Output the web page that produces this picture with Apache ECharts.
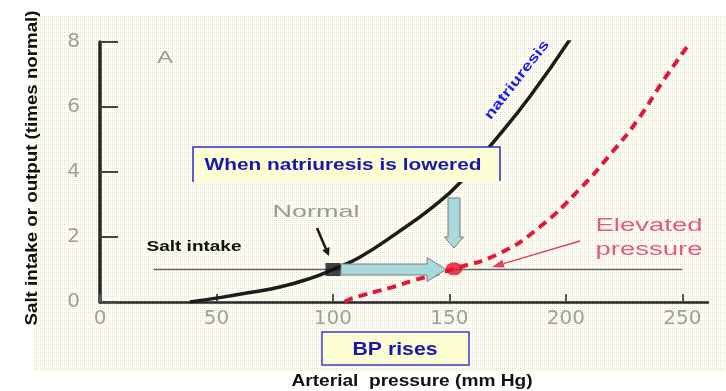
<!DOCTYPE html>
<html><head><meta charset="utf-8">
<script src="https://cdn.jsdelivr.net/npm/echarts@6/dist/echarts.min.js"></script>
<style>html,body{margin:0;padding:0;background:#fff}#c{width:726px;height:391px}</style>
</head><body><div id="c"></div>
<script>
// ---- data ----
const xTicks = [0, 50, 100, 150, 200, 250];
const yTicks = [0, 2, 4, 6, 8];
const natriuresisX = [38.6, 52.7, 65, 77.2, 90, 100, 111.5, 127.4, 142.8, 154.4, 167.2, 184.4, 202.4];
const natriuresisY = [0, 0.15, 0.3, 0.46, 0.72, 1.0, 1.38, 2.12, 2.92, 3.66, 4.77, 6.31, 8.15];
const elevatedX = [105, 108.5, 125.6, 134, 152, 171.6, 188.6, 205.6, 219.5, 230.8, 242, 252];
const elevatedY = [0, 0.12, 0.46, 0.65, 1.02, 1.5, 2.3, 3.45, 4.58, 5.6, 6.83, 7.85];
const saltIntake = 1;
const saltRange = [23, 250];
const normalPoint = [100, 1];
const elevatedPoint = [152, 1.02];

// ---- chart ----
const chart = echarts.init(document.getElementById('c'), null, {renderer: 'canvas'});
const pair = (xs, ys) => xs.map((x, i) => [x, ys[i]]);

chart.setOption({
  animation: false,
  backgroundColor: '#ffffff',
  grid: {left: 100, right: 18, top: 42, bottom: 89},
  xAxis: {
    type: 'value', min: 0, max: 261, interval: 50,
    splitLine: {show: false},
    axisLine: {show: true, onZero: false, lineStyle: {color: '#262626', width: 2.5}},
    axisTick: {show: true, inside: true, length: 8, customValues: xTicks, lineStyle: {color: '#555', width: 2}},
    axisLabel: {customValues: xTicks, color: '#a0a0a0', fontSize: 20, fontFamily: 'DejaVu Sans', margin: 7}
  },
  yAxis: {
    type: 'value', min: 0, max: 8, interval: 2,
    splitLine: {show: false},
    axisLine: {show: true, lineStyle: {color: '#262626', width: 3.5}},
    axisTick: {show: true, inside: true, length: 18, customValues: yTicks, lineStyle: {color: '#444', width: 2}},
    axisLabel: {customValues: yTicks, color: '#a0a0a0', fontSize: 20, fontFamily: 'DejaVu Sans', margin: 20}
  },
  series: [
    {type: 'line', name: 'Salt intake', data: saltRange.map(x => [x, saltIntake]), symbol: 'none',
     lineStyle: {color: '#6a6a6a', width: 1.5}, z: 1},
    {type: 'line', name: 'natriuresis', data: pair(natriuresisX, natriuresisY), symbol: 'none',
     smooth: 0.5, lineStyle: {color: '#1c1c1c', width: 3.5}, z: 3},
    {type: 'line', name: 'Elevated pressure', data: pair(elevatedX, elevatedY), symbol: 'none',
     smooth: 0.5, lineStyle: {color: '#e3173a', width: 4, type: [9, 6]}, z: 3},
    {type: 'scatter', name: 'Normal', data: [normalPoint], symbol: 'rect', symbolSize: [15, 13],
     itemStyle: {color: '#111'}, z: 6},
    {type: 'scatter', name: 'Elevated', data: [elevatedPoint], symbol: 'circle', symbolSize: [17, 13],
     itemStyle: {color: '#e3102e'}, z: 6}
  ]
});

// ---- annotations ----
const meas = document.createElement('canvas').getContext('2d');
const FAM = '"Liberation Sans", Arial, sans-serif';
function txt(text, cx, cy, o) {
  const weight = o.weight || 'normal';
  meas.font = weight + ' ' + o.size + 'px ' + FAM;
  const w = meas.measureText(text).width;
  const sx = o.width ? o.width / w : 1;
  return {
    type: 'text', x: cx, y: cy, rotation: o.rot || 0, scaleX: sx, z: 20,
    style: {text: text, fill: o.color, fontSize: o.size, fontWeight: weight, fontFamily: FAM,
            align: 'center', verticalAlign: 'middle', textAlign: 'center', textVerticalAlign: 'middle'}
  };
}
function arrowLine(p0, p1, color, width, headLen, headW) {
  const dx = p1[0] - p0[0], dy = p1[1] - p0[1];
  const L = Math.sqrt(dx * dx + dy * dy), ux = dx / L, uy = dy / L;
  const bx = p1[0] - ux * headLen, by = p1[1] - uy * headLen;
  return [
    {type: 'line', z: 20, shape: {x1: p0[0], y1: p0[1], x2: bx, y2: by},
     style: {stroke: color, lineWidth: width}},
    {type: 'polygon', z: 20, shape: {points: [[p1[0], p1[1]], [bx - uy * headW, by + ux * headW], [bx + uy * headW, by - ux * headW]]},
     style: {fill: color}}
  ];
}

// background dotted pattern
const tile = document.createElement('canvas');
tile.width = 4; tile.height = 4;
const tc = tile.getContext('2d');
tc.fillStyle = '#fffff2'; tc.fillRect(0, 0, 4, 4);
tc.fillStyle = '#d8d8d8'; tc.fillRect(0, 0, 1, 1);
tc.fillStyle = '#e9e9e6'; tc.fillRect(2, 0, 1, 1);
tc.fillStyle = '#f8e6e4'; tc.fillRect(2, 2, 1, 1);
tc.fillStyle = '#ededea'; tc.fillRect(0, 2, 1, 1);

const pN = chart.convertToPixel({gridIndex: 0}, normalPoint);
const pE = chart.convertToPixel({gridIndex: 0}, elevatedPoint);
const yc = pN[1];
const x0 = pN[0] + 8, x1 = pE[0] - 8;
const bigArrow = {
  type: 'polygon', z: 5,
  shape: {points: [[x0, yc - 5.5], [x1 - 19, yc - 5.5], [x1 - 19, yc - 12], [x1, yc], [x1 - 19, yc + 12], [x1 - 19, yc + 5.5], [x0, yc + 5.5]]},
  style: {fill: '#a9d9dd', stroke: '#7a7a7a', lineWidth: 1}
};
const dxC = 454, dy0 = 198, dy1 = 248;
const downArrow = {
  type: 'polygon', z: 20,
  shape: {points: [[dxC - 6, dy0], [dxC + 6, dy0], [dxC + 6, dy1 - 11], [dxC + 9.5, dy1 - 11], [dxC, dy1], [dxC - 9.5, dy1 - 11], [dxC - 6, dy1 - 11]]},
  style: {fill: '#a9d9dd', stroke: '#7a7a7a', lineWidth: 1}
};

const elements = [
  {type: 'rect', z: -10, shape: {x: 33, y: 15, width: 693, height: 357}, style: {fill: {image: tile, repeat: 'repeat'}}},
  // "When natriuresis is lowered" box
  {type: 'rect', z: 15, shape: {x: 193, y: 147, width: 307, height: 35}, style: {fill: '#fdfdd4', stroke: null}},
  {type: 'polyline', z: 16, shape: {points: [[193, 182], [193, 147], [500, 147], [500, 181]]}, style: {stroke: '#2a2ad0', lineWidth: 1.5, fill: null}},
  // "BP rises" box
  {type: 'rect', z: 15, shape: {x: 322, y: 332, width: 147, height: 33}, style: {fill: '#fdfdd4', stroke: '#3a3ad0', lineWidth: 1.5}},
  bigArrow, downArrow,
  ...arrowLine([317, 228], [329, 256], '#1a1a1a', 2.5, 8, 4),
  ...arrowLine([580, 241], [492, 267], '#e3405e', 1.5, 12, 4),
  txt('A', 165, 59, {size: 16, color: '#9a9a9a', width: 16}),
  txt('natriuresis', 517, 80, {size: 14, weight: 'bold', color: '#2020ee', width: 96, rot: 52 * Math.PI / 180}),
  txt('When natriuresis is lowered', 343, 165, {size: 17, weight: 'bold', color: '#1818b0', width: 277}),
  txt('Normal', 316, 212, {size: 17, color: '#9a9a9a', width: 87}),
  txt('Salt intake', 194, 247, {size: 15, weight: 'bold', color: '#111111', width: 95}),
  txt('Elevated', 649, 226, {size: 18, color: '#e35c7a', width: 107}),
  txt('pressure', 649, 250, {size: 18, color: '#e35c7a', width: 107}),
  txt('BP rises', 395, 350, {size: 18, weight: 'bold', color: '#1818b0', width: 85}),
  txt('Arterial  pressure (mm Hg)', 412, 382, {size: 16, weight: 'bold', color: '#111111', width: 241}),
  txt('Salt intake or output (times normal)', 33, 168, {size: 16, weight: 'bold', color: '#111111', width: 315, rot: Math.PI / 2})
];
chart.setOption({graphic: {elements: elements}});
</script>
</body></html>
